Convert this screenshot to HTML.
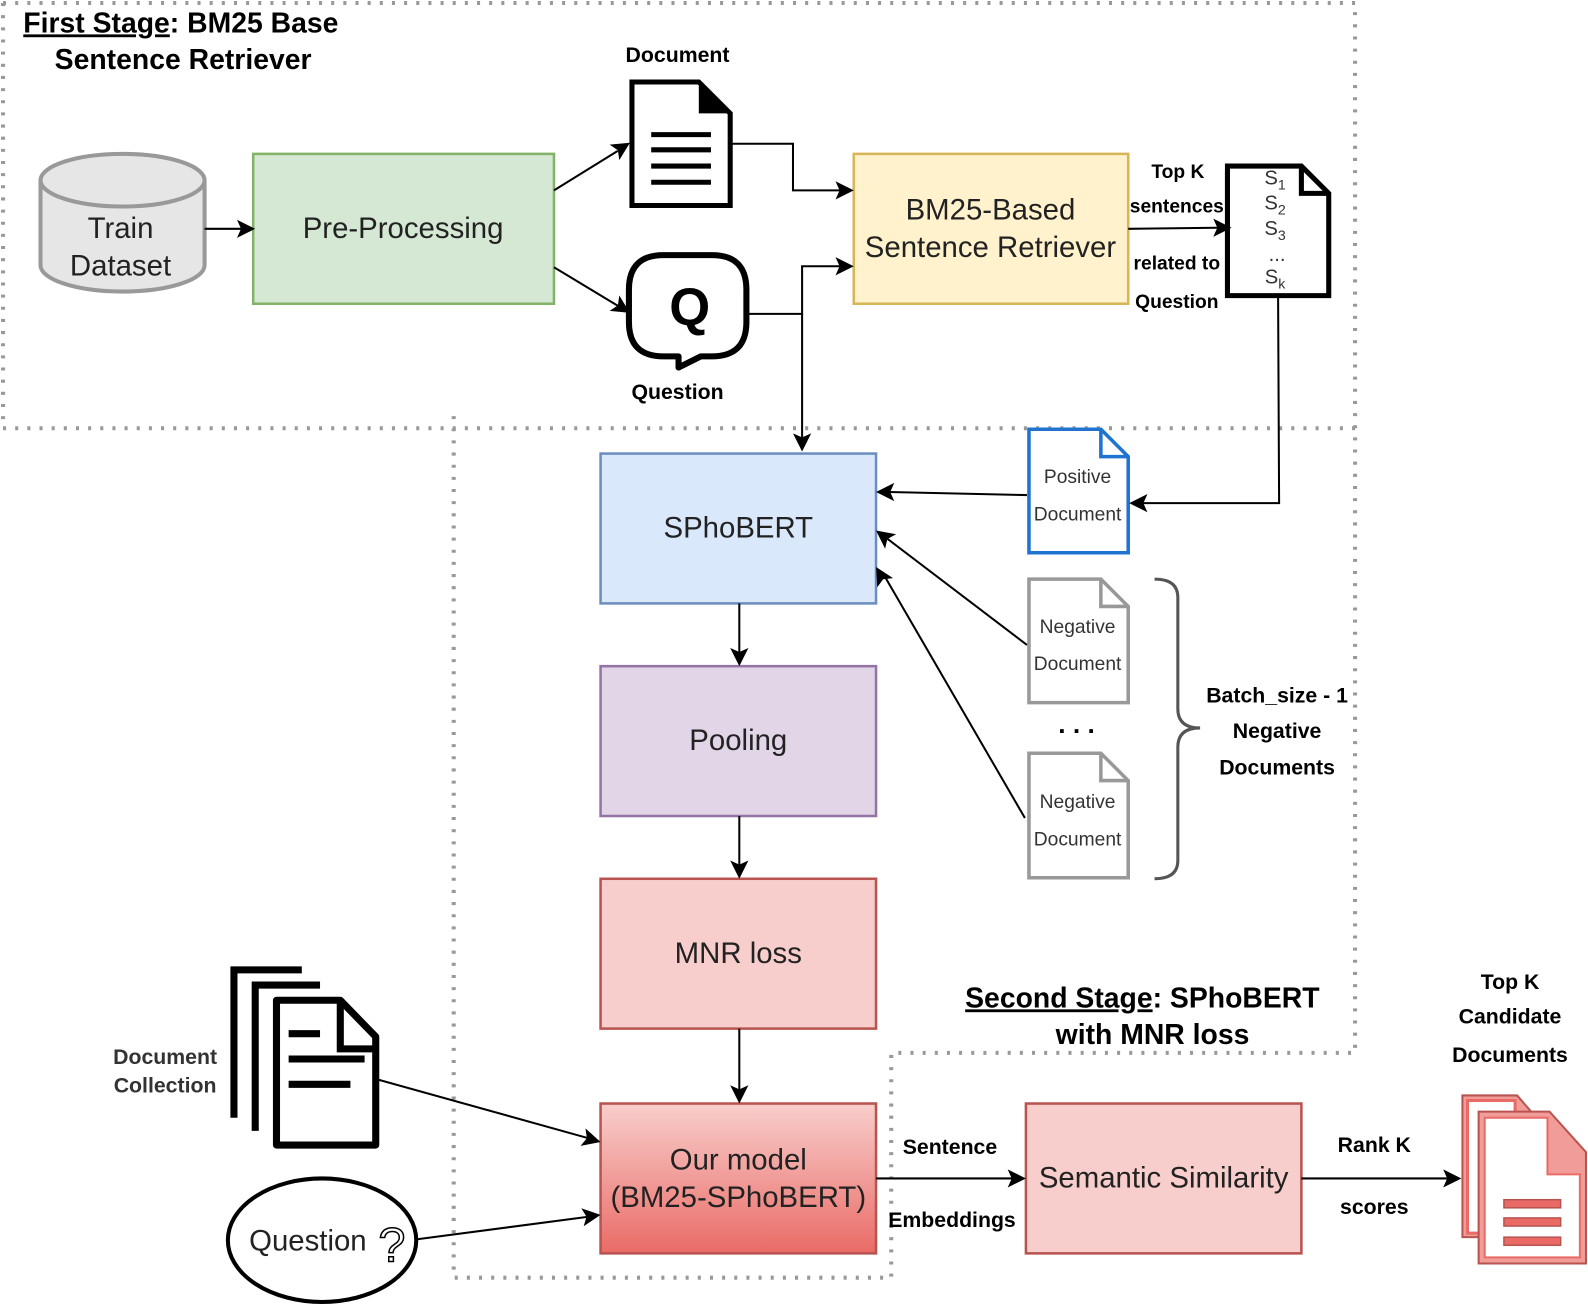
<!DOCTYPE html>
<html><head><meta charset="utf-8"><style>
html,body{margin:0;padding:0;background:#fff;}
svg{display:block;}
text{font-family:"Liberation Sans",Arial,sans-serif;}
.b{font-weight:bold;}
</style></head><body>
<svg width="1588" height="1305" viewBox="0 0 1568 1289" preserveAspectRatio="none" xmlns="http://www.w3.org/2000/svg">
<defs>
<linearGradient id="g1" x1="0" y1="0" x2="0" y2="1"><stop offset="0" stop-color="#f8cecc"/><stop offset="1" stop-color="#ea6b66"/></linearGradient>
</defs>
<g stroke="#999" stroke-width="4" stroke-dasharray="3 9" fill="none">
<path d="M3 3 H1338 V1040 H880 V1262 H448 V410"/>
<path d="M3 3 V423 H1338"/>
</g>
<!-- titles -->
<text x="23" y="32" font-size="28" class="b"><tspan text-decoration="underline">First Stage</tspan>: BM25 Base</text>
<text x="54" y="68" font-size="28" class="b">Sentence Retriever</text>
<text x="953" y="995" font-size="28" class="b"><tspan text-decoration="underline">Second Stage</tspan>: SPhoBERT</text>
<text x="1138" y="1031" font-size="28" class="b" text-anchor="middle">with MNR loss</text>
<!-- cylinder -->
<path d="M40 178 V262 A81 26 0 0 0 202 262 V178" fill="#e6e6e6" stroke="#999" stroke-width="4"/>
<ellipse cx="121" cy="178" rx="81" ry="26" fill="#e6e6e6" stroke="#999" stroke-width="4"/>
<text x="119" y="235" font-size="29" text-anchor="middle" fill="#222">Train</text>
<text x="119" y="272" font-size="29" text-anchor="middle" fill="#222">Dataset</text>
<!-- boxes -->
<rect x="250" y="152" width="297" height="148" fill="#d5e8d4" stroke="#82b366" stroke-width="2.5"/>
<text x="398" y="235" font-size="29" text-anchor="middle" fill="#222">Pre-Processing</text>
<rect x="843" y="152" width="271" height="148" fill="#fff2cc" stroke="#d6b656" stroke-width="2.5"/>
<text x="978" y="217" font-size="29" text-anchor="middle" fill="#222">BM25-Based</text>
<text x="978" y="254" font-size="29" text-anchor="middle" fill="#222">Sentence Retriever</text>
<rect x="593" y="448" width="272" height="148" fill="#dae8fc" stroke="#6c8ebf" stroke-width="2.5"/>
<text x="729" y="531" font-size="29" text-anchor="middle" fill="#222">SPhoBERT</text>
<rect x="593" y="658" width="272" height="148" fill="#e1d5e7" stroke="#9673a6" stroke-width="2.5"/>
<text x="729" y="741" font-size="29" text-anchor="middle" fill="#222">Pooling</text>
<rect x="593" y="868" width="272" height="148" fill="#f8cecc" stroke="#b85450" stroke-width="2.5"/>
<text x="729" y="951" font-size="29" text-anchor="middle" fill="#222">MNR loss</text>
<rect x="593" y="1090" width="272" height="148" fill="url(#g1)" stroke="#b85450" stroke-width="2.5"/>
<text x="729" y="1155" font-size="29" text-anchor="middle" fill="#222">Our model</text>
<text x="729" y="1192" font-size="29" text-anchor="middle" fill="#222">(BM25-SPhoBERT)</text>
<rect x="1013" y="1090" width="272" height="148" fill="#f8cecc" stroke="#b85450" stroke-width="2.5"/>
<text x="1149" y="1173" font-size="29" text-anchor="middle" fill="#222">Semantic Similarity</text>
<!-- document icon -->
<path d="M624 81 H690 L721 112 V203 H624 Z" fill="#fff" stroke="#000" stroke-width="5"/>
<path d="M690 81 V112 H721 Z" fill="#000"/>
<g stroke="#000" stroke-width="5"><line x1="643" y1="133" x2="702" y2="133"/><line x1="643" y1="148" x2="702" y2="148"/><line x1="643" y1="164" x2="702" y2="164"/><line x1="643" y1="180" x2="702" y2="180"/></g>
<text x="669" y="61" font-size="21" class="b" text-anchor="middle">Document</text>
<!-- question bubble -->
<path d="M655 252 H703 Q737 252 737 286 V318 Q737 352 703 352 H692 L670 363 L670 352 H655 Q621 352 621 318 V286 Q621 252 655 252 Z" fill="#fff" stroke="#000" stroke-width="6" stroke-linejoin="round"/>
<text x="681" y="321" font-size="52" class="b" text-anchor="middle">Q</text>
<text x="669" y="394" font-size="21" class="b" text-anchor="middle">Question</text>
<!-- S doc -->
<path d="M1212 164 H1285 L1312 191 V292 H1212 Z" fill="#fff" stroke="#000" stroke-width="5"/>
<path d="M1285 164 V191 H1312" fill="none" stroke="#000" stroke-width="5"/>
<g font-size="20" fill="#333" text-anchor="middle">
<text x="1259" y="182">S<tspan font-size="14" dy="5">1</tspan></text>
<text x="1259" y="207">S<tspan font-size="14" dy="5">2</tspan></text>
<text x="1259" y="232">S<tspan font-size="14" dy="5">3</tspan></text>
<text x="1261" y="258">...</text>
<text x="1259" y="280">S<tspan font-size="14" dy="5">k</tspan></text>
</g>
<g font-size="19" class="b" text-anchor="middle">
<text x="1163" y="176">Top K</text><text x="1162" y="210">sentences</text>
<text x="1162" y="266">related to</text><text x="1162" y="304">Question</text>
</g>
<!-- positive/negative docs -->
<path d="M1016 424 H1087 L1114 451 V546 H1016 Z" fill="#fff" stroke="#1f73d1" stroke-width="3.5"/>
<path d="M1087 424 V451 H1114" fill="none" stroke="#1f73d1" stroke-width="3.5"/>
<text x="1064" y="477" font-size="19" text-anchor="middle" fill="#333">Positive</text>
<text x="1064" y="514" font-size="19" text-anchor="middle" fill="#333">Document</text>
<path d="M1016 572 H1087 L1114 599 V694 H1016 Z" fill="#fff" stroke="#999" stroke-width="3.5"/>
<path d="M1087 572 V599 H1114" fill="none" stroke="#999" stroke-width="3.5"/>
<text x="1064" y="625" font-size="19" text-anchor="middle" fill="#333">Negative</text>
<text x="1064" y="662" font-size="19" text-anchor="middle" fill="#333">Document</text>
<path d="M1016 744 H1087 L1114 771 V867 H1016 Z" fill="#fff" stroke="#999" stroke-width="3.5"/>
<path d="M1087 744 V771 H1114" fill="none" stroke="#999" stroke-width="3.5"/>
<text x="1064" y="798" font-size="19" text-anchor="middle" fill="#333">Negative</text>
<text x="1064" y="835" font-size="19" text-anchor="middle" fill="#333">Document</text>
<text x="1063" y="724" font-size="26" class="b" text-anchor="middle">. . .</text>
<path d="M1140 572 Q1163 572 1163 590 V700 Q1163 719 1185 719 Q1163 719 1163 738 V850 Q1163 868 1140 868" fill="none" stroke="#555" stroke-width="3"/>
<g font-size="21" class="b" text-anchor="middle">
<text x="1261" y="694">Batch_size - 1</text><text x="1261" y="729">Negative</text><text x="1261" y="765">Documents</text>
</g>
<!-- bottom left icons -->
<path d="M298 958 H231 V1104" fill="none" stroke="#000" stroke-width="7"/>
<path d="M316 973 H252 V1117" fill="none" stroke="#000" stroke-width="7"/>
<path d="M273 988 H336 L371 1024 V1131 H273 Z" fill="#fff" stroke="#000" stroke-width="7" stroke-linejoin="round"/>
<path d="M336 988 V1036 H371" fill="none" stroke="#000" stroke-width="7"/>
<g stroke="#000" stroke-width="7"><line x1="285" y1="1021" x2="316" y2="1021"/><line x1="285" y1="1046" x2="360" y2="1046"/><line x1="285" y1="1071" x2="346" y2="1071"/></g>
<text x="163" y="1051" font-size="21" class="b" text-anchor="middle" fill="#333">Document</text>
<text x="163" y="1079" font-size="21" class="b" text-anchor="middle" fill="#333">Collection</text>
<ellipse cx="318" cy="1225" rx="93" ry="61" fill="#fff" stroke="#000" stroke-width="4"/>
<text x="304" y="1235" font-size="29" text-anchor="middle" fill="#222">Question</text>
<text x="387" y="1246" font-size="48" text-anchor="middle" fill="#fff" stroke="#000" stroke-width="1.5">?</text>
<!-- bottom right icon -->
<path d="M1444 1082 H1498 L1511 1097 V1222 H1444 Z" fill="#f19c99" stroke="#b85450" stroke-width="2"/>
<path d="M1449 1087 H1496 V1218 H1449 Z" fill="#fff" stroke="#ea6b66" stroke-width="3"/>
<path d="M1460 1098 H1530 L1566 1138 V1248 H1460 Z" fill="#f19c99" stroke="#b85450" stroke-width="2"/>
<path d="M1466 1104 H1528 V1160 H1560 V1242 H1466 Z" fill="#fff" stroke="#ea6b66" stroke-width="2"/>
<g fill="#ea6b66" stroke="#b85450" stroke-width="1.5"><rect x="1485" y="1185" width="56" height="8"/><rect x="1485" y="1203" width="56" height="8"/><rect x="1485" y="1222" width="56" height="8"/></g>
<g font-size="21" class="b" text-anchor="middle">
<text x="1491" y="977">Top K</text><text x="1491" y="1011">Candidate</text><text x="1491" y="1049">Documents</text>
<text x="1357" y="1138">Rank K</text><text x="1357" y="1199">scores</text>
<text x="938" y="1140">Sentence</text><text x="940" y="1212">Embeddings</text>
</g>
<!-- connectors -->
<g stroke="#000" stroke-width="2" fill="none">
<line x1="202" y1="226" x2="238" y2="226"/>
<line x1="547" y1="188" x2="610" y2="149"/>
<line x1="547" y1="264" x2="610" y2="302"/>
<polyline points="722,142 783,142 783,188 830,188"/>
<polyline points="737,310 792,310 792,263 830,263"/>
<line x1="792" y1="310" x2="792" y2="432"/>
<line x1="1114" y1="226" x2="1202" y2="225"/>
<polyline points="1262,293 1263,497 1128,497"/>
<line x1="1014" y1="489" x2="878" y2="486"/>
<line x1="1014" y1="637" x2="876" y2="532"/>
<line x1="1012" y1="808" x2="874" y2="570"/>
<line x1="730" y1="596" x2="730" y2="644"/>
<line x1="730" y1="806" x2="730" y2="854"/>
<line x1="730" y1="1016" x2="730" y2="1076"/>
<line x1="372" y1="1066" x2="580" y2="1124"/>
<line x1="412" y1="1224" x2="580" y2="1202"/>
<line x1="865" y1="1164" x2="1000" y2="1164"/>
<line x1="1285" y1="1164" x2="1430" y2="1164"/>
</g>
<g fill="#000">
<path d="M252 226 L234 217 L238 226 L234 235 Z"/>
<path transform="translate(622,141) rotate(-32)" d="M0 0 L-18 -9 L-14 0 L-18 9 Z"/>
<path transform="translate(622,309) rotate(32)" d="M0 0 L-18 -9 L-14 0 L-18 9 Z"/>
<path d="M843 188 L825 179 L829 188 L825 197 Z"/>
<path d="M843 263 L825 254 L829 263 L825 272 Z"/>
<path d="M792 446 L783 428 L792 432 L801 428 Z"/>
<path d="M1216 225 L1198 216 L1202 225 L1198 234 Z"/>
<path d="M1115 497 L1133 488 L1129 497 L1133 506 Z"/>
<path d="M865 486 L883 477 L879 486 L883 495 Z"/>
<path transform="translate(865,524) rotate(37)" d="M0 0 L18 -9 L14 0 L18 9 Z"/>
<path transform="translate(865,560) rotate(60)" d="M0 0 L18 -9 L14 0 L18 9 Z"/>
<path d="M730 658 L721 640 L730 644 L739 640 Z"/>
<path d="M730 868 L721 850 L730 854 L739 850 Z"/>
<path d="M730 1090 L721 1072 L730 1076 L739 1072 Z"/>
<path transform="translate(593,1128) rotate(15.6)" d="M0 0 L-18 -9 L-14 0 L-18 9 Z"/>
<path transform="translate(593,1200) rotate(-7.5)" d="M0 0 L-18 -9 L-14 0 L-18 9 Z"/>
<path d="M1013 1164 L995 1155 L999 1164 L995 1173 Z"/>
<path d="M1443 1164 L1425 1155 L1429 1164 L1425 1173 Z"/>
</g>
</svg>
</body></html>
